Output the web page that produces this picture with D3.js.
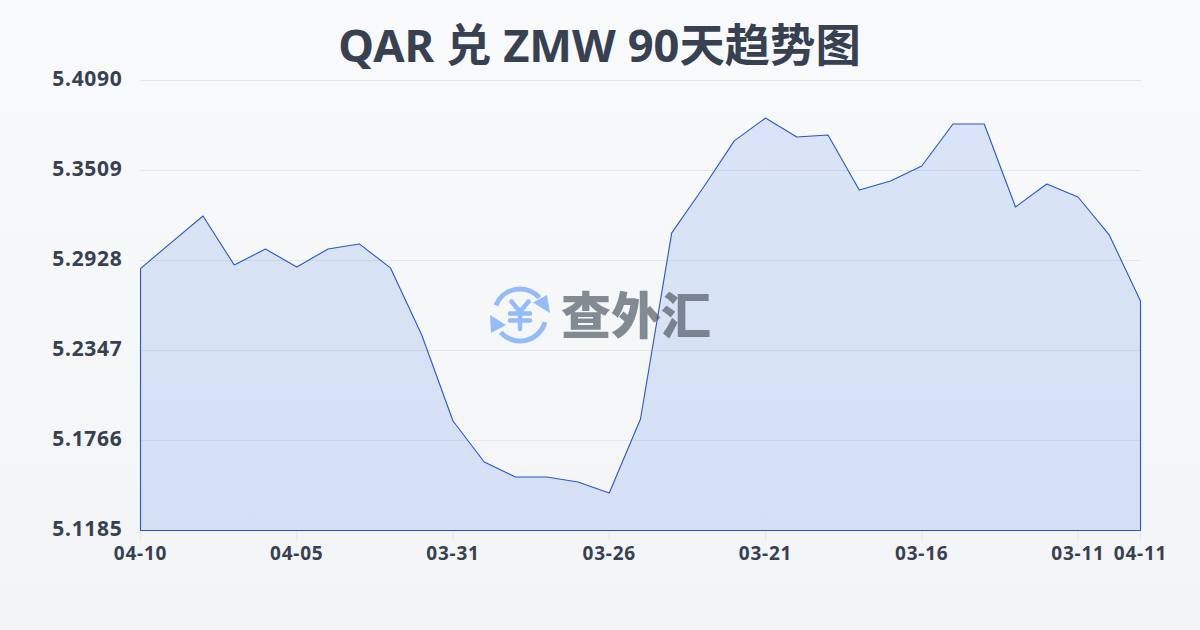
<!DOCTYPE html>
<html><head><meta charset="utf-8">
<style>html,body{margin:0;padding:0;width:1200px;height:630px;overflow:hidden}svg{display:block}
text{font-family:"Noto Sans","Noto Sans CJK SC",sans-serif}</style>
<script src="https://cdn.jsdelivr.net/npm/d3@7"></script></head><body>
<svg id="c" width="1200" height="630"></svg>
<script>
const titleText="QAR 兑 ZMW 90天趋势图";
const watermarkText="查外汇";
const dates=["04-10","04-09","04-08","04-07","04-06","04-05","04-04","04-03","04-02","04-01","03-31","03-30","03-29","03-28","03-27","03-26","03-25","03-24","03-23","03-22","03-21","03-20","03-19","03-18","03-17","03-16","03-15","03-14","03-13","03-12","03-11","03-10","04-11"];
const values=[5.2876,5.3047,5.3215,5.2899,5.3002,5.2886,5.3002,5.3035,5.2880,5.2447,5.1892,5.1627,5.1530,5.1530,5.1498,5.1427,5.1905,5.3106,5.3396,5.3700,5.3848,5.3725,5.3738,5.3383,5.3441,5.3538,5.3809,5.3809,5.3273,5.3422,5.3338,5.3093,5.2667];
const yTicks=[5.1185,5.1766,5.2347,5.2928,5.3509,5.4090];
const xTickIdx=[0,5,10,15,20,25,30,32];

const svg=d3.select("#c");
const defs=svg.append("defs");
const bg=defs.append("linearGradient").attr("id","bg").attr("x1",0).attr("y1",0).attr("x2",0).attr("y2",1);
bg.append("stop").attr("offset",0).attr("stop-color","#f8fafc");
bg.append("stop").attr("offset",1).attr("stop-color","#f2f4f6");
svg.append("rect").attr("width",1200).attr("height",630).attr("fill","url(#bg)");

const x=d3.scaleLinear().domain([0,values.length-1]).range([140.5,1140.5]);
const y=d3.scaleLinear().domain([5.1185,5.4090]).range([530.5,80.5]);
const ink="#374151";

svg.append("text").attr("x",599.5).attr("y",62).attr("text-anchor","middle")
  .attr("font-size",45.3).attr("font-weight",700).attr("fill",ink).text(titleText);

svg.append("g").selectAll("line").data(yTicks.slice(1)).join("line")
  .attr("x1",140).attr("x2",1141).attr("y1",d=>y(d)).attr("y2",d=>y(d))
  .attr("stroke","#e5e7eb").attr("stroke-width",1);

svg.append("g").selectAll("line").data(xTickIdx).join("line")
  .attr("x1",i=>x(i)).attr("x2",i=>x(i)).attr("y1",530.5).attr("y2",541)
  .attr("stroke","#e5e7eb").attr("stroke-width",1);

svg.append("g").selectAll("text").data(yTicks).join("text")
  .attr("x",122.5).attr("y",d=>y(d)+5.5).attr("text-anchor","end")
  .attr("font-size",21).attr("font-weight",700).attr("letter-spacing",0.7).attr("fill",ink)
  .text(d=>d.toFixed(4));

svg.append("g").selectAll("text").data(xTickIdx).join("text")
  .attr("x",i=>x(i)).attr("y",559.5).attr("text-anchor","middle")
  .attr("font-size",19).attr("font-weight",700).attr("letter-spacing",0.8).attr("fill",ink)
  .text(i=>dates[i]);

const area=d3.area().x((d,i)=>x(i)).y0(y(5.1185)).y1(d=>y(d)).curve(d3.curveLinear);
svg.append("path").datum(values).attr("d",area)
  .attr("fill","#2a60e0").attr("fill-opacity",0.14)
  .attr("stroke","#2558c8").attr("stroke-width",1.1).attr("stroke-linejoin","round");

// watermark
const wm=svg.append("g");
const blue="#94bbfa";
const ic=wm.append("g").attr("transform","translate(520,315)")
  .attr("fill","none").attr("stroke",blue).attr("stroke-width",5).attr("stroke-linecap","round");
const arc=d3.arc().innerRadius(26).outerRadius(26);
ic.append("path").attr("d",arc({startAngle:-1.19,endAngle:0.84}));
ic.append("path").attr("d",arc({startAngle:1.85,endAngle:3.98}));
ic.append("path").attr("d","M-8.5,-13.5L0,-3L8.5,-13.5M-10,-1.5H10M-10,5.5H10M0,-3V14").attr("stroke-width",4.5);
ic.append("path").attr("d","M30,-2L27,-20L13,-12.5Z").attr("fill",blue).attr("stroke","none");
ic.append("path").attr("d","M-30,0L-29,18L-14,10Z").attr("fill",blue).attr("stroke","none");
wm.append("text").attr("x",636).attr("y",334).attr("text-anchor","middle")
  .attr("font-size",50).attr("font-weight",900).attr("fill","#4b5563").attr("fill-opacity",0.68)
  .attr("style",'font-family:"Noto Sans CJK SC"').text(watermarkText);
</script></body></html>
